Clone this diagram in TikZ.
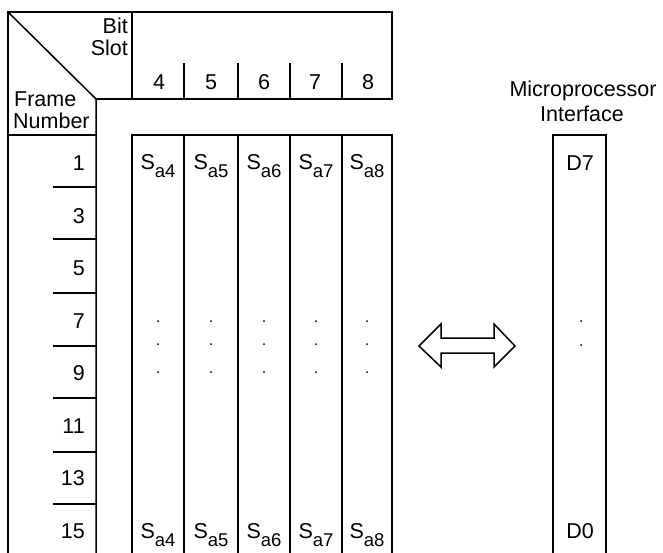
\documentclass[tikz,border=0pt]{standalone}
\usepackage{fontspec}
\setmainfont{Liberation Sans}
\newcommand{\sasub}[1]{S\raisebox{-8pt}{\fontsize{18.5}{18.5}\selectfont a#1}}
\tikzset{
  ln/.style={line width=1.5pt, line cap=rect},
  txt/.style={inner sep=0pt, font=\fontsize{21.5}{23}\selectfont},
  dotm/.style={fill=black, draw=none},
}
\begin{document}
\begin{tikzpicture}[x=1pt,y=-1pt]
\useasboundingbox (0,0) rectangle (663,552);
% header
\draw[ln] (96,99) -- (392,99) -- (392,12) -- (8,12) -- (8,552);
\draw[ln] (8,12) -- (96,99) -- (96,552);
\draw[ln] (132,12) -- (132,99);
\draw[ln] (8,135) -- (96,135);
\foreach \x in {184,238,290,342} \draw[ln] (\x,64) -- (\x,99);
% data region
\draw[ln] (132,552) -- (132,135) -- (392,135) -- (392,552);
\foreach \x in {184,238,290,342} \draw[ln] (\x,135) -- (\x,552);
% row dividers
\foreach \y in {187,239,293,346,398,452,504} \draw[ln] (54,\y) -- (96,\y);
% header texts
\node[txt, anchor=base east] (bit) at (128,33) {Bit};
\node[txt, anchor=base east] (slot) at (128,55) {Slot};
\node[txt, anchor=base west] (frame) at (14,106) {Frame};
\node[txt, anchor=base west] (number) at (13,128) {Number};
\foreach \n/\x in {4/159,5/211,6/264,7/315,8/368}
  \node[txt, anchor=base] (h\n) at (\x,89) {\n};
% frame numbers
\foreach \n/\y in {1/170,3/223,5/275,7/328,9/380,11/433,13/485,15/538}
  \node[txt, anchor=base east] (f\n) at (85,\y) {\n};
% S_a labels
\foreach \n/\x in {4/158,5/211,6/264,7/316,8/367} {
  \node[txt, anchor=base] (st\n) at (\x,169) {\sasub{\n}};
  \node[txt, anchor=base] (sb\n) at (\x,538) {\sasub{\n}};
  \foreach \y in {321,344,372} \fill[dotm] (\x,\y) circle (1pt);
}
% microprocessor interface
\node[txt, anchor=base] (mp) at (583,96) {Microprocessor};
\node[txt, anchor=base] (intf) at (582,121) {Interface};
\draw[ln] (553,552) -- (553,135) -- (606,135) -- (606,552);
\node[txt, anchor=base] (d7) at (580,170) {D7};
\node[txt, anchor=base] (d0) at (580,538) {D0};
\fill[dotm] (581,321) circle (1pt);
\fill[dotm] (581,345) circle (1pt);
% double arrow
\draw[ln, line join=miter, line cap=butt] (419,346) -- (441,324) -- (441,338) -- (494,338) -- (494,324) -- (515,346)
  -- (494,367) -- (494,353) -- (441,353) -- (441,367) -- cycle;
\end{tikzpicture}
\end{document}
